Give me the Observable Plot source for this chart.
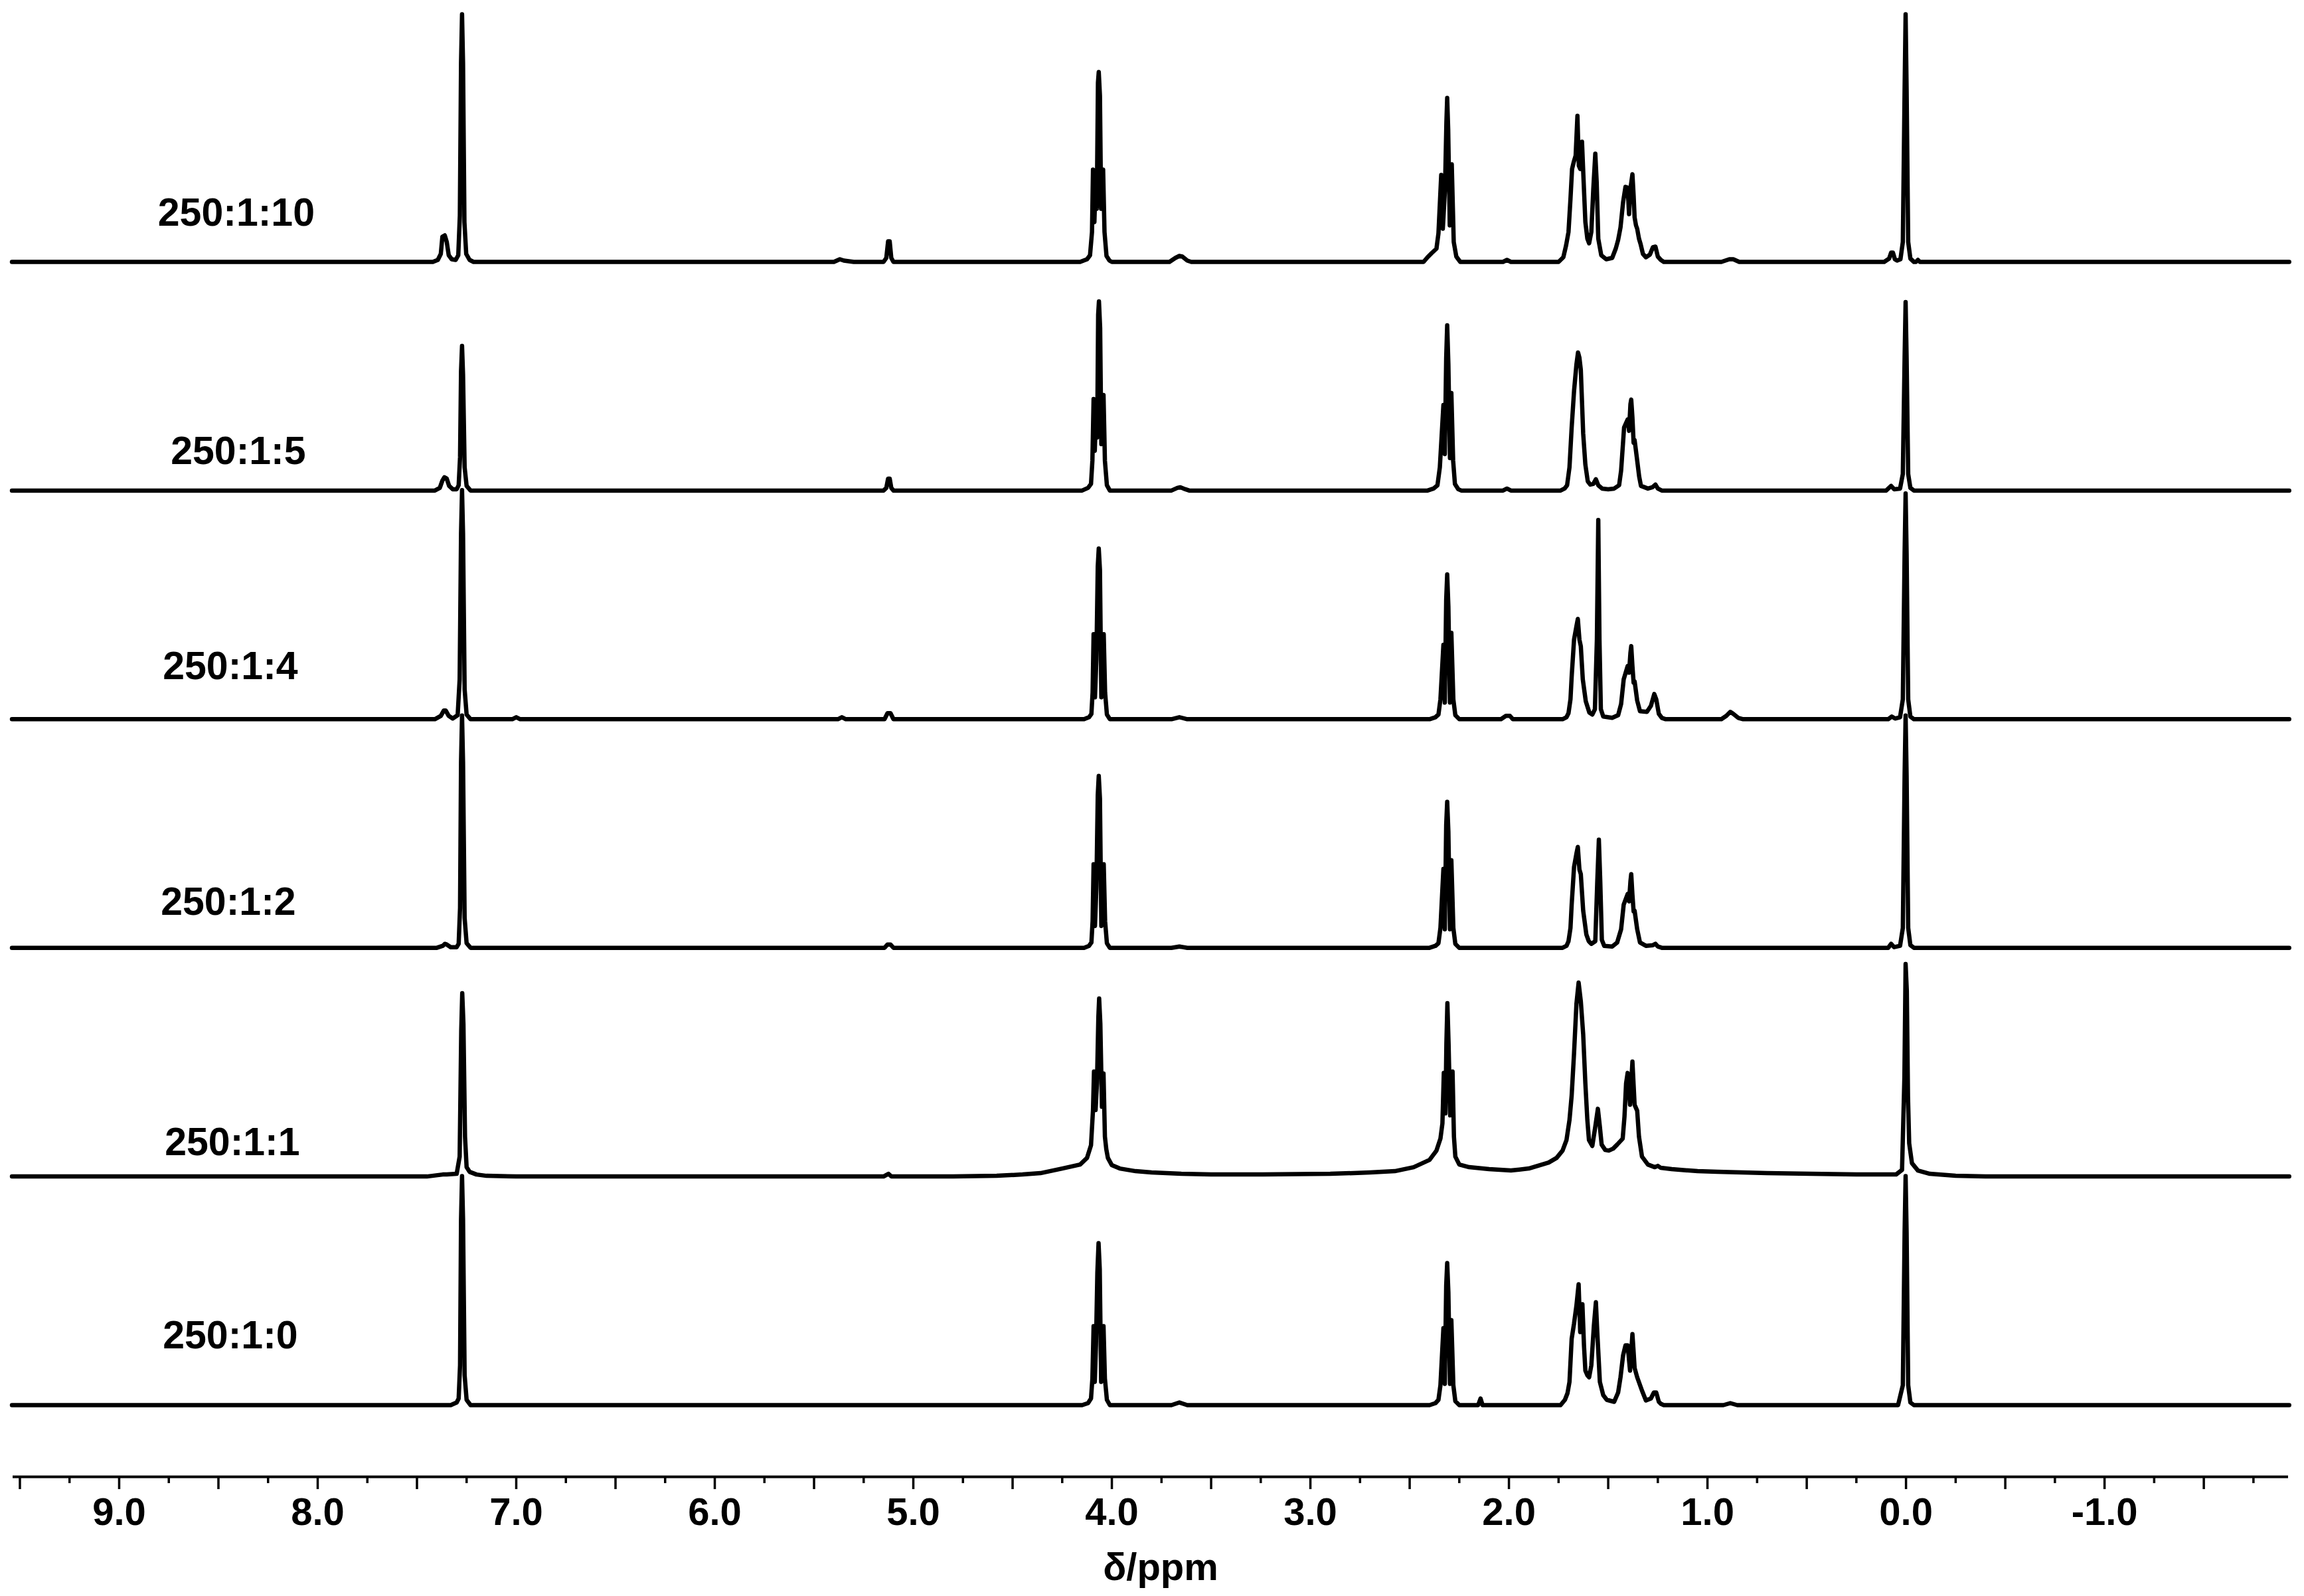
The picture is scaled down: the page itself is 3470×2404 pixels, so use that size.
<!DOCTYPE html>
<html>
<head>
<meta charset="utf-8">
<script src="https://cdn.jsdelivr.net/npm/d3@7"></script>
<script src="https://cdn.jsdelivr.net/npm/@observablehq/plot@0.6"></script>
<style>
html, body { margin: 0; padding: 0; background: #fff; }
</style>
</head>
<body>
<div id="chart"></div>
<script>
// ---- DATA (chemical shift in ppm, intensity in a.u. above each spectrum's own baseline) ----
const samples = ["250:1:0", "250:1:1", "250:1:2", "250:1:4", "250:1:5", "250:1:10"];

const spec_250_1_0 = [
  [9.54,0],
  [7.33,0],[7.30,4],[7.29,10],[7.283,60],[7.278,280],[7.273,345],[7.268,280],[7.26,45],[7.25,8],[7.23,0],
  [4.15,0],[4.12,3],[4.105,10],[4.098,40],[4.092,119],[4.086,35],[4.08,90],[4.073,200],[4.067,244],[4.061,205],[4.054,35],[4.047,90],[4.042,119],[4.035,40],[4.025,8],[4.01,0],
  [3.70,0],[3.66,4],[3.62,0],
  [2.40,0],[2.37,3],[2.355,8],[2.345,30],[2.33,116],[2.323,32],[2.316,180],[2.311,214],[2.305,170],[2.297,32],[2.29,128],[2.28,30],[2.27,6],[2.25,0],
  [2.155,0],[2.143,10],[2.133,0],
  [1.74,0],[1.718,8],[1.705,18],[1.695,35],[1.684,100],[1.672,123],[1.66,150],[1.649,182],[1.641,110],[1.63,152],[1.622,90],[1.615,52],[1.605,45],[1.596,42],[1.585,60],[1.572,120],[1.562,155],[1.555,110],[1.542,35],[1.525,15],[1.507,8],[1.47,5],[1.45,19],[1.438,42],[1.425,75],[1.413,90],[1.402,90],[1.39,52],[1.378,107],[1.372,80],[1.367,56],[1.354,42],[1.33,22],[1.31,7],[1.285,10],[1.27,19],[1.258,19],[1.245,5],[1.235,2],[1.22,0],
  [0.92,0],[0.885,3],[0.85,0],
  [0.04,0],[0.016,30],[0.007,260],[0.002,345],[-0.003,260],[-0.011,30],[-0.022,4],[-0.04,0],
  [-1.93,0]
];

const spec_250_1_1 = [
  [9.54,0],
  [7.45,0],[7.37,3],[7.35,3],[7.30,4],[7.285,30],[7.277,220],[7.272,276],[7.266,230],[7.258,60],[7.25,14],[7.235,7],[7.20,3],[7.15,1],[7.0,0],
  [5.15,0],[5.125,4],[5.11,0],
  [4.8,0],[4.58,1],[4.45,3],[4.36,5],[4.25,12],[4.16,18],[4.125,28],[4.105,47],[4.095,100],[4.09,158],[4.082,100],[4.075,140],[4.068,240],[4.064,268],[4.058,230],[4.05,105],[4.042,155],[4.035,60],[4.028,41],[4.02,28],[4.0,17],[3.96,12],[3.88,8],[3.80,6],[3.65,4],[3.5,3],[3.24,3],
  [2.9,4],[2.7,6],[2.575,8],[2.48,14],[2.40,25],[2.365,39],[2.345,57],[2.335,80],[2.328,156],[2.32,95],[2.315,200],[2.31,261],[2.304,200],[2.296,92],[2.284,158],[2.277,60],[2.27,30],[2.25,18],[2.20,14],[2.10,11],[1.99,9],[1.90,12],[1.80,21],[1.76,28],[1.73,39],[1.71,55],[1.695,85],[1.684,122],[1.672,186],[1.66,260],[1.649,292],[1.638,264],[1.626,214],[1.615,140],[1.605,85],[1.597,55],[1.58,46],[1.565,75],[1.552,102],[1.542,75],[1.533,48],[1.515,40],[1.497,39],[1.475,42],[1.455,48],[1.427,57],[1.418,90],[1.41,140],[1.402,156],[1.39,108],[1.378,173],[1.367,108],[1.354,99],[1.345,60],[1.33,30],[1.30,18],[1.265,14],[1.25,16],[1.235,13],[1.18,11],[1.05,8],[0.95,7],[0.7,5],[0.48,4],[0.2,3],[0.05,3],
  [0.02,10],[0.008,150],[0.002,320],[-0.004,280],[-0.01,120],[-0.016,50],[-0.03,20],[-0.06,9],[-0.12,4],[-0.25,1],[-0.4,0],
  [-1.93,0]
];

const spec_250_1_2 = [
  [9.54,0],
  [7.40,0],[7.37,3],[7.36,6],[7.35,5],[7.33,1],[7.30,1],[7.29,6],[7.283,60],[7.278,280],[7.273,350],[7.268,280],[7.26,45],[7.25,7],[7.23,0],
  [5.145,0],[5.13,5],[5.115,5],[5.10,0],
  [4.14,0],[4.115,3],[4.103,8],[4.097,40],[4.092,126],[4.085,33],[4.078,90],[4.071,230],[4.066,259],[4.06,225],[4.053,33],[4.046,90],[4.041,126],[4.034,40],[4.025,7],[4.01,0],
  [3.70,0],[3.66,2],[3.62,0],
  [2.40,0],[2.37,3],[2.355,7],[2.345,30],[2.33,119],[2.323,28],[2.316,185],[2.311,220],[2.305,175],[2.297,28],[2.29,132],[2.28,30],[2.27,6],[2.25,0],
  [1.73,0],[1.71,3],[1.70,10],[1.69,30],[1.684,65],[1.672,122],[1.66,142],[1.653,152],[1.645,118],[1.638,111],[1.626,56],[1.61,20],[1.598,10],[1.585,6],[1.565,10],[1.555,100],[1.547,163],[1.54,100],[1.532,12],[1.52,3],[1.48,2],[1.455,8],[1.435,28],[1.422,65],[1.402,81],[1.395,70],[1.388,100],[1.384,111],[1.378,80],[1.372,55],[1.367,56],[1.354,28],[1.34,8],[1.31,3],[1.275,4],[1.262,6],[1.25,2],[1.23,0],
  [0.09,0],[0.075,6],[0.06,1],[0.03,3],[0.016,30],[0.007,260],[0.002,350],[-0.003,260],[-0.011,30],[-0.022,4],[-0.04,0],
  [-1.93,0]
];

const spec_250_1_4 = [
  [9.54,0],
  [7.41,0],[7.38,5],[7.365,13],[7.355,13],[7.34,5],[7.32,1],[7.295,6],[7.285,60],[7.278,280],[7.273,345],[7.268,280],[7.26,45],[7.25,7],[7.23,0],
  [7.02,0],[7.0,3],[6.98,0],
  [5.38,0],[5.36,3],[5.34,0],
  [5.145,0],[5.13,9],[5.115,9],[5.10,0],
  [4.14,0],[4.115,3],[4.103,8],[4.097,40],[4.092,128],[4.085,33],[4.078,90],[4.071,230],[4.066,257],[4.06,225],[4.053,33],[4.046,90],[4.041,128],[4.034,40],[4.025,7],[4.01,0],
  [3.70,0],[3.66,3],[3.62,0],
  [2.40,0],[2.37,3],[2.355,7],[2.345,30],[2.33,112],[2.323,25],[2.316,180],[2.311,218],[2.305,170],[2.297,25],[2.29,130],[2.28,30],[2.27,6],[2.25,0],
  [2.04,0],[2.015,5],[1.995,5],[1.98,0],
  [1.73,0],[1.71,3],[1.70,9],[1.69,30],[1.684,64],[1.672,120],[1.66,140],[1.653,151],[1.645,120],[1.638,110],[1.628,60],[1.613,27],[1.595,10],[1.58,7],[1.567,15],[1.557,120],[1.55,300],[1.544,120],[1.537,15],[1.525,4],[1.48,2],[1.45,6],[1.435,23],[1.422,60],[1.402,80],[1.395,70],[1.388,100],[1.384,110],[1.378,80],[1.372,55],[1.367,57],[1.354,28],[1.34,12],[1.305,11],[1.285,20],[1.268,38],[1.258,30],[1.245,8],[1.23,2],[1.21,0],
  [0.93,0],[0.905,5],[0.885,11],[0.87,8],[0.845,2],[0.82,0],
  [0.09,0],[0.072,4],[0.055,1],[0.03,3],[0.016,30],[0.007,250],[0.002,340],[-0.003,250],[-0.011,30],[-0.022,4],[-0.04,0],
  [-1.93,0]
];

const spec_250_1_5 = [
  [9.54,0],
  [7.41,0],[7.385,4],[7.372,15],[7.362,20],[7.35,18],[7.338,7],[7.32,2],[7.30,2],[7.29,8],[7.283,50],[7.278,180],[7.273,218],[7.268,175],[7.26,35],[7.25,7],[7.23,0],
  [5.15,0],[5.136,4],[5.127,18],[5.119,18],[5.111,4],[5.10,0],
  [4.15,0],[4.12,4],[4.105,10],[4.098,45],[4.092,138],[4.086,60],[4.08,115],[4.074,80],[4.069,265],[4.065,285],[4.059,245],[4.053,70],[4.047,120],[4.042,144],[4.035,45],[4.025,8],[4.01,0],
  [3.70,0],[3.67,4],[3.655,5],[3.63,2],[3.61,0],
  [2.41,0],[2.38,3],[2.36,8],[2.348,35],[2.33,129],[2.323,55],[2.316,200],[2.311,249],[2.305,190],[2.297,49],[2.29,147],[2.281,45],[2.272,10],[2.255,2],[2.24,0],
  [2.03,0],[2.01,3],[1.99,0],
  [1.74,0],[1.72,3],[1.707,8],[1.695,35],[1.684,95],[1.672,150],[1.66,190],[1.652,208],[1.645,200],[1.638,182],[1.626,86],[1.615,39],[1.603,14],[1.59,9],[1.575,10],[1.562,17],[1.55,8],[1.53,3],[1.50,2],[1.47,3],[1.445,8],[1.435,30],[1.42,95],[1.402,107],[1.395,90],[1.388,130],[1.384,137],[1.378,110],[1.372,72],[1.367,76],[1.356,50],[1.344,21],[1.335,7],[1.30,3],[1.277,5],[1.262,9],[1.25,3],[1.23,0],
  [0.10,0],[0.075,7],[0.06,2],[0.03,3],[0.016,25],[0.007,200],[0.002,284],[-0.003,200],[-0.011,25],[-0.022,4],[-0.04,0],
  [-1.93,0]
];

const spec_250_1_10 = [
  [9.54,0],
  [7.42,0],[7.395,3],[7.38,12],[7.372,38],[7.36,40],[7.35,30],[7.34,10],[7.325,4],[7.305,3],[7.292,10],[7.284,70],[7.278,300],[7.273,373],[7.268,300],[7.261,60],[7.252,12],[7.235,3],[7.215,0],
  [5.40,0],[5.37,4],[5.35,2],[5.30,0],
  [5.15,0],[5.136,6],[5.127,31],[5.119,31],[5.111,6],[5.10,0],
  [4.16,0],[4.125,4],[4.11,10],[4.10,45],[4.095,139],[4.088,60],[4.082,120],[4.076,80],[4.070,270],[4.066,286],[4.060,250],[4.054,80],[4.048,120],[4.044,139],[4.037,45],[4.027,9],[4.012,2],[4.0,0],
  [3.71,0],[3.68,6],[3.66,9],[3.645,8],[3.62,2],[3.60,0],
  [2.43,0],[2.41,7],[2.39,13],[2.365,20],[2.355,43],[2.341,131],[2.333,50],[2.322,110],[2.315,210],[2.311,247],[2.306,200],[2.298,55],[2.292,110],[2.288,147],[2.278,30],[2.265,8],[2.245,0],
  [2.03,0],[2.01,3],[1.99,0],
  [1.75,0],[1.726,7],[1.712,25],[1.70,45],[1.69,95],[1.682,140],[1.674,150],[1.664,160],[1.655,220],[1.648,145],[1.641,140],[1.632,181],[1.625,130],[1.615,60],[1.605,35],[1.596,28],[1.585,45],[1.575,110],[1.565,163],[1.558,120],[1.55,35],[1.535,10],[1.51,4],[1.48,6],[1.462,20],[1.45,33],[1.438,52],[1.425,90],[1.413,113],[1.402,112],[1.395,72],[1.388,110],[1.378,132],[1.372,100],[1.367,67],[1.36,55],[1.354,50],[1.345,35],[1.337,27],[1.325,12],[1.31,7],[1.29,11],[1.275,22],[1.262,23],[1.25,8],[1.235,3],[1.22,0],
  [0.93,0],[0.89,4],[0.87,4],[0.84,0],
  [0.11,0],[0.085,5],[0.075,14],[0.066,14],[0.056,4],[0.045,2],[0.028,4],[0.016,30],[0.007,260],[0.002,373],[-0.003,260],[-0.011,30],[-0.022,5],[-0.04,0],
  [-0.05,0],[-0.06,3],[-0.07,0],
  [-1.93,0]
];

const spectra = [spec_250_1_0, spec_250_1_1, spec_250_1_2, spec_250_1_4, spec_250_1_5, spec_250_1_10];

// axis ticks
const majorTicks = [9.5, 9, 8.5, 8, 7.5, 7, 6.5, 6, 5.5, 5, 4.5, 4, 3.5, 3, 2.5, 2, 1.5, 1, 0.5, 0, -0.5, -1, -1.5];
const minorTicks = [9.25, 8.75, 8.25, 7.75, 7.25, 6.75, 6.25, 5.75, 5.25, 4.75, 4.25, 3.75, 3.25, 2.75, 2.25, 1.75, 1.25, 0.75, 0.25, -0.25, -0.75, -1.25, -1.75];
const tickValues = [9, 8, 7, 6, 5, 4, 3, 2, 1, 0, -1];
const tickLabels = ["9.0", "8.0", "7.0", "6.0", "5.0", "4.0", "3.0", "2.0", "1.0", "0.0", "-1.0"];
const axisTitle = "δ/ppm";

// ---- LAYOUT ----
const spacing = 344.4;          // vertical offset between stacked spectra (a.u.)
const yMin = -108, yMax = 2116; // visible intensity window
const xDomain = [9.535, -1.926];
// label anchor (ppm) and height above baseline (a.u.) for each sample name
const labelPpm = [8.44, 8.43, 8.45, 8.44, 8.40, 8.41];
const labelLift = [104, 51, 69, 79, 59, 73];

const rows = [];
spectra.forEach((s, k) => s.forEach(([ppm, h]) => rows.push({sample: samples[k], ppm, y: k * spacing + h})));
const labels = samples.map((name, k) => ({name, x: labelPpm[k], y: k * spacing + labelLift[k]}));
const labelMap = new Map(tickValues.map((v, i) => [v, tickLabels[i]]));

const font = "'Liberation Sans', Arial, Helvetica, sans-serif";

const chart = Plot.plot({
  width: 3470,
  height: 2404,
  marginLeft: 19,
  marginRight: 24,
  marginTop: 0,
  marginBottom: 180,
  style: {fontFamily: font, fontWeight: "bold", fontSize: "58px", background: "#fff", color: "#000", overflow: "visible"},
  x: {domain: xDomain},
  y: {domain: [yMin, yMax], axis: null},
  marks: [
    Plot.ruleY([yMin], {stroke: "#000", strokeWidth: 4}),
    Plot.axisX(majorTicks, {tickSize: 19, tickPadding: 12, strokeWidth: 3.5, tickFormat: d => labelMap.get(d) ?? "", fontSize: 58, fontWeight: "bold", label: null}),
    Plot.axisX(minorTicks, {tickSize: 10, strokeWidth: 3.5, tickFormat: () => "", label: null}),
    Plot.line(rows, {x: "ppm", y: "y", z: "sample", stroke: "#000", strokeWidth: 6.5, strokeLinejoin: "round", curve: "linear"}),
    Plot.text(labels, {x: "x", y: "y", text: "name", fontSize: 59, fontWeight: "bold", fill: "#000", textAnchor: "middle"}),
    Plot.text([axisTitle], {frameAnchor: "bottom", dy: 155, dx: 15, fontSize: 58, fontWeight: "bold", fill: "#000"})
  ]
});
document.getElementById("chart").appendChild(chart);
</script>
</body>
</html>
